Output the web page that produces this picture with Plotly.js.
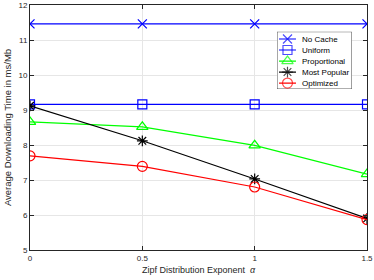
<!DOCTYPE html>
<html><head><meta charset="utf-8">
<script src="https://cdn.plot.ly/plotly-3.0.1.min.js"></script>
<style>html,body{margin:0;padding:0;background:#fff}#c{width:374px;height:280px}</style>
</head><body><div id="c"></div>
<script>
const alpha = [0, 0.5, 1, 1.5];
const noCache = [11.46, 11.46, 11.46, 11.46];
const uniform = [9.16, 9.16, 9.16, 9.16];
const proportional = [8.66, 8.52, 7.99, 7.17];
const mostPopular = [9.12, 8.12, 7.03, 5.90];
const optimized = [7.69, 7.39, 6.80, 5.87];
const names = ['No Cache', 'Uniform', 'Proportional', 'Most Popular', 'Optimized'];

const series = [noCache, uniform, proportional, mostPopular, optimized];
const colors = ['#0000ff', '#0000ff', '#00ff00', '#000000', '#ff0000'];
const symbols = ['x-thin-open', 'square-open', 'triangle-up-open', 'asterisk-open', 'circle-open'];
const sizes = [9, 9, 10, 9, 10];
const FONT = 'Liberation Sans, Arial, sans-serif';

const traces = series.map((s, i) => ({
  x: alpha, y: s, name: names[i], type: 'scatter', mode: 'lines+markers',
  showlegend: false, xaxis: 'x', yaxis: 'y',
  line: {color: colors[i], width: 1.2},
  marker: {symbol: symbols[i], size: sizes[i], color: colors[i], line: {color: colors[i], width: 1.2}}
}));

// custom legend drawn in an auxiliary axis pair (units: pixels inside the legend box)
const rowH = 11, topPad = 7.3;
const annotations = [];
names.forEach((n, i) => {
  const yy = topPad + i * rowH;
  traces.push({
    x: [2, 10.5, 19], y: [yy, yy, yy], type: 'scatter', mode: 'lines+markers',
    xaxis: 'x2', yaxis: 'y2', showlegend: false, hoverinfo: 'skip',
    line: {color: colors[i], width: 1.2},
    marker: {symbol: symbols[i], size: [0, sizes[i], 0], color: colors[i], line: {color: colors[i], width: 1.2}}
  });
  annotations.push({xref: 'x2', yref: 'y2', x: 23.5, y: yy, text: n, showarrow: false,
    xanchor: 'left', yanchor: 'middle', font: {family: FONT, size: 8, color: '#000'}});
});

const axisCommon = {
  showline: true, linecolor: '#262626', linewidth: 1, mirror: 'ticks',
  ticks: 'inside', ticklen: 4, tickcolor: '#262626',
  showgrid: true, gridcolor: '#e6e6e6', gridwidth: 1, zeroline: false,
  tickfont: {family: FONT, size: 8, color: '#262626'}
};

const layout = {
  width: 374, height: 280,
  margin: {l: 30, r: 7, t: 5, b: 30},
  paper_bgcolor: '#fff', plot_bgcolor: '#fff',
  showlegend: false,
  annotations: annotations,
  shapes: [{type: 'rect', xref: 'x2', yref: 'y2', x0: 0, x1: 75, y0: 0, y1: 57.3,
    layer: 'below', fillcolor: '#fff', line: {color: '#262626', width: 0.8}}],
  xaxis: Object.assign({}, axisCommon, {
    range: [0, 1.5], tickvals: [0, 0.5, 1, 1.5], ticktext: ['0', '0.5', '1', '1.5'],
    title: {text: 'Zipf Distribution Exponent  <i>α</i>', standoff: 5,
      font: {family: FONT, size: 9, color: '#262626'}}
  }),
  yaxis: Object.assign({}, axisCommon, {
    range: [5, 12], tickvals: [5, 6, 7, 8, 9, 10, 11, 12],
    title: {text: 'Average Downloading Time in ms/Mb', standoff: 5,
      font: {family: FONT, size: 9.5, color: '#262626'}}
  }),
  xaxis2: {domain: [0.733, 0.955], range: [0, 75], anchor: 'y2', visible: false, fixedrange: true},
  yaxis2: {domain: [0.657, 0.891], range: [57.3, 0], anchor: 'x2', visible: false, fixedrange: true}
};

Plotly.newPlot('c', traces, layout, {displayModeBar: false, staticPlot: true});
</script></body></html>
